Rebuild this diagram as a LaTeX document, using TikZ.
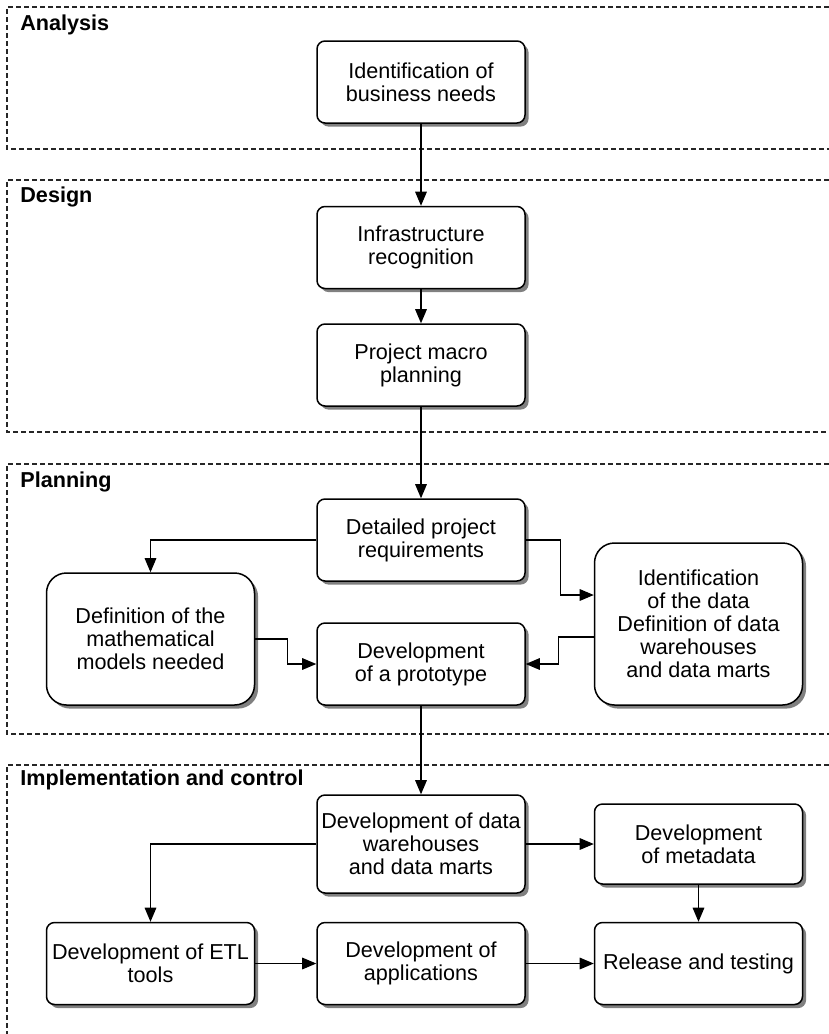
\documentclass[tikz,border=0pt]{standalone}
\usepackage{fontspec}
\setmainfont{Liberation Sans}
\usepackage{tikz}
\usetikzlibrary{positioning, arrows, shadows}
\tikzset{
	>=triangle 45, % filled arrow heads
	node distance=60pt, % centre to centre, changed per node below
	stage/.style={draw, line width=0.75pt, fill=white, rounded corners=4pt,
		minimum width=104pt, minimum height=41pt, align=center, inner sep=2pt,
		font=\fontsize{10.8}{11.5}\selectfont,
		drop shadow={shadow xshift=1.8pt, shadow yshift=-1.8pt, fill=black!50, opacity=1}}, % every process box
	bigstage/.style={stage, rounded corners=10pt}, % the two tall boxes in planning
	flow/.style={->, line width=0.6pt}, % connectors
	phase/.style={draw=black!85, line width=0.6pt, dash pattern=on 2.5pt off 1.5pt}, % dashed frames
	phasetext/.style={anchor=west, inner sep=0pt, font=\fontsize{10.8}{11.5}\selectfont\bfseries},
}
\begin{document}
\begin{tikzpicture}[x=0.5pt, y=-0.5pt]
		\useasboundingbox (0,0) rectangle (829,1034);

		% phases
		\draw[phase] (829,7) -- (7,7) -- (7,149) -- (829,149);
		\draw[phase] (829,180) -- (7,180) -- (7,432) -- (829,432);
		\draw[phase] (829,464) -- (7,464) -- (7,734) -- (829,734);
		\draw[phase] (829,765) -- (7,765) -- (7,1034);
		\node[phasetext] (ph1) at (20,25) {Analysis};
		\node[phasetext] (ph2) at (20,197) {Design};
		\node[phasetext] (ph3) at (20,482) {Planning};
		\node[phasetext] (ph4) at (20,780) {Implementation and control};

		% steps
		\node[stage] (b1) at (421,82) {Identification of\\business needs};
		\node[stage, below of=b1, node distance=82.75pt] (b2) {Infrastructure\\recognition};
		\node[stage, below of=b2, node distance=58.75pt] (b3) {Project macro\\planning};
		\node[stage, below of=b3, node distance=87.5pt] (b4) {Detailed project\\requirements};
		\node[stage, below of=b4, node distance=62pt] (b7) {Development\\of a prototype};
		\node[bigstage, minimum height=66pt, left of=b7, node distance=135.25pt, yshift=12.5pt] (b5) {Definition of the\\mathematical\\models needed};
		\node[bigstage, minimum height=81pt, right of=b7, node distance=138.75pt, yshift=20pt] (b6) {Identification\\of the data\\Definition of data\\warehouses\\and data marts};
		\node[stage, minimum height=49pt, below of=b7, node distance=90pt] (b8) {Development of data\\warehouses\\and data marts};
		\node[stage, minimum height=40pt, right of=b8, node distance=138.75pt] (b9) {Development\\of metadata};
		\node[stage, below of=b8, node distance=59.75pt] (b11) {Development of\\applications};
		\node[stage, left of=b11, node distance=135.25pt] (b10) {Development of ETL\\tools};
		\node[stage, right of=b11, node distance=138.75pt] (b12) {Release and testing};

		\foreach \a/\b in {b1/b2, b2/b3, b3/b4, b7/b8, b8/b9, b9/b12, b10/b11, b11/b12}
		{
			\draw[flow] (\a) -- (\b);
		}

		\draw[flow] (b4.west) -| (b5.north);
		\draw[flow] (b4.east) -- ++(17.5pt,0) |- ([yshift=14.5pt]b6.west);
		\draw[flow] (b5.east) -- ++(16pt,0) |- (b7.west);
		\draw[flow] ([yshift=-6.5pt]b6.west) -- ++(-17.5pt,0) |- (b7.east);
		\draw[flow] (b8.west) -| (b10.north);

	\end{tikzpicture}
\end{document}
